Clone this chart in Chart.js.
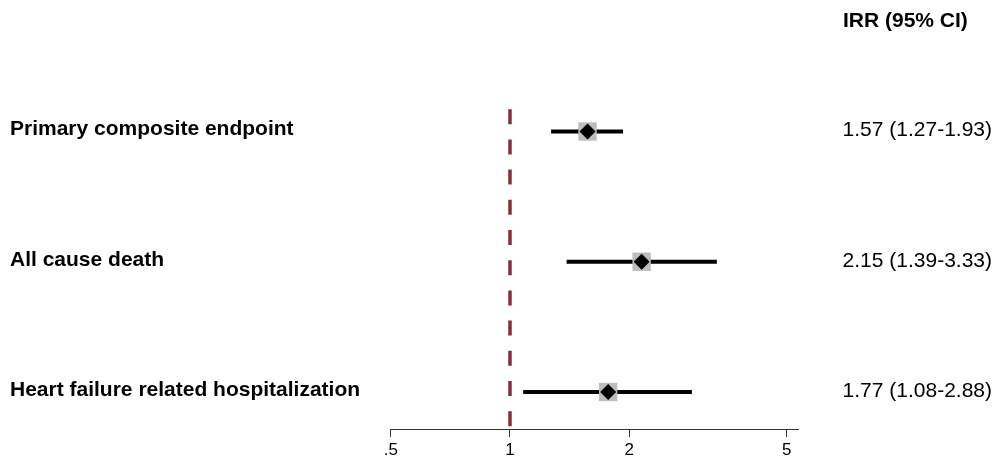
<!DOCTYPE html>
<html>
<head>
<meta charset="utf-8">
<script src="https://cdn.jsdelivr.net/npm/chart.js@4.4.1/dist/chart.umd.min.js"></script>
<style>
  body { margin: 0; background: #fff; }
  #wrapper { width: 995px; height: 458px; }
</style>
</head>
<body>
<div id="wrapper"><canvas id="chartjs" width="995" height="458"></canvas></div>
<script>
// data
const outcomes = ['Primary composite endpoint', 'All cause death', 'Heart failure related hospitalization'];
const irr = [1.57, 2.15, 1.77];
const ciLow = [1.27, 1.39, 1.08];
const ciHigh = [1.93, 3.33, 2.88];
const irrLabels = ['1.57 (1.27-1.93)', '2.15 (1.39-3.33)', '1.77 (1.08-2.88)'];
const irrHeader = 'IRR (95% CI)';
const xTicks = [0.5, 1, 2, 5];
const xTickLabels = ['.5', '1', '2', '5'];
const refValue = 1;

// scale bounds
const Y_MIN = 0.789;
const Y_MAX = 3.284;
const FONT = '"Liberation Sans", Arial, Helvetica, sans-serif';

Chart.defaults.color = '#000';
Chart.defaults.font.family = FONT;

function rowTicks(scale) {
  scale.ticks = outcomes.map((name, i) => ({ value: i + 1 }));
}

// column header above the IRR labels
const headerPlugin = {
  id: 'header',
  afterDraw(chart) {
    const ctx = chart.ctx;
    ctx.save();
    ctx.font = `bold 21px ${FONT}`;
    ctx.fillStyle = '#000';
    ctx.textAlign = 'left';
    ctx.textBaseline = 'middle';
    ctx.fillText(irrHeader, chart.chartArea.right + 45, 21);
    ctx.restore();
  }
};

const ciSets = outcomes.map((name, i) => ({
  label: name,
  data: [{ x: ciLow[i], y: i + 1 }, { x: ciHigh[i], y: i + 1 }],
  showLine: true,
  borderColor: '#000',
  borderWidth: 4,
  pointRadius: 0,
  order: 2
}));

drawChart('chartjs', {
  type: 'scatter',
  data: {
    datasets: [
      {
        label: 'irr',
        data: irr.map((v, i) => ({ x: v, y: i + 1 })),
        pointStyle: 'rectRot',
        pointRadius: 8,
        backgroundColor: '#000',
        borderWidth: 0,
        order: 0
      },
      {
        label: 'weight',
        data: irr.map((v, i) => ({ x: v, y: i + 1 })),
        pointStyle: 'rect',
        pointRadius: 13,
        backgroundColor: '#bdbdbd',
        borderWidth: 0,
        order: 1
      },
      ...ciSets,
      {
        label: 'ref',
        data: [{ x: refValue, y: Y_MIN }, { x: refValue, y: Y_MAX }],
        showLine: true,
        borderColor: '#80313b',
        borderWidth: 3.5,
        borderDash: [15, 15.2],
        borderDashOffset: 25,
        pointRadius: 0,
        order: 3
      }
    ]
  },
  plugins: [headerPlugin],
  options: {
    responsive: false,
    animation: false,
    events: [],
    layout: { padding: { left: 10, right: 3, top: 104, bottom: 0 } },
    plugins: {
      legend: { display: false },
      tooltip: { enabled: false },
      title: { display: false }
    },
    scales: {
      x: {
        type: 'logarithmic',
        min: 0.4977,
        max: 5.338,
        afterBuildTicks: scale => { scale.ticks = xTicks.map(v => ({ value: v })); },
        afterFit: scale => { scale.height = 29; },
        ticks: {
          autoSkip: false,
          maxRotation: 0,
          padding: 3,
          font: { size: 17 },
          callback: (val, idx) => xTickLabels[idx]
        },
        grid: { drawOnChartArea: false, drawTicks: true, tickLength: 8, color: '#333', lineWidth: 1 },
        border: { display: true, color: '#333', width: 1 }
      },
      y: {
        type: 'linear',
        position: 'left',
        reverse: true,
        min: Y_MIN,
        max: Y_MAX,
        afterBuildTicks: rowTicks,
        afterFit: scale => { scale.width = 380; },
        ticks: {
          crossAlign: 'far',
          labelOffset: -2,
          font: { size: 21, weight: 'bold' },
          callback: val => outcomes[val - 1]
        },
        grid: { display: false, drawTicks: false },
        border: { display: false }
      },
      y2: {
        type: 'linear',
        position: 'right',
        reverse: true,
        min: Y_MIN,
        max: Y_MAX,
        afterBuildTicks: rowTicks,
        afterFit: scale => { scale.width = 194; },
        ticks: {
          crossAlign: 'far',
          padding: 0,
          labelOffset: -1,
          font: { size: 21 },
          callback: val => irrLabels[val - 1]
        },
        grid: { display: false, drawTicks: false },
        border: { display: false }
      }
    }
  }
});

function drawChart(id, config) {
  const ctx = document.getElementById(id).getContext('2d');
  new Chart(ctx, config);
}
</script>
</body>
</html>
